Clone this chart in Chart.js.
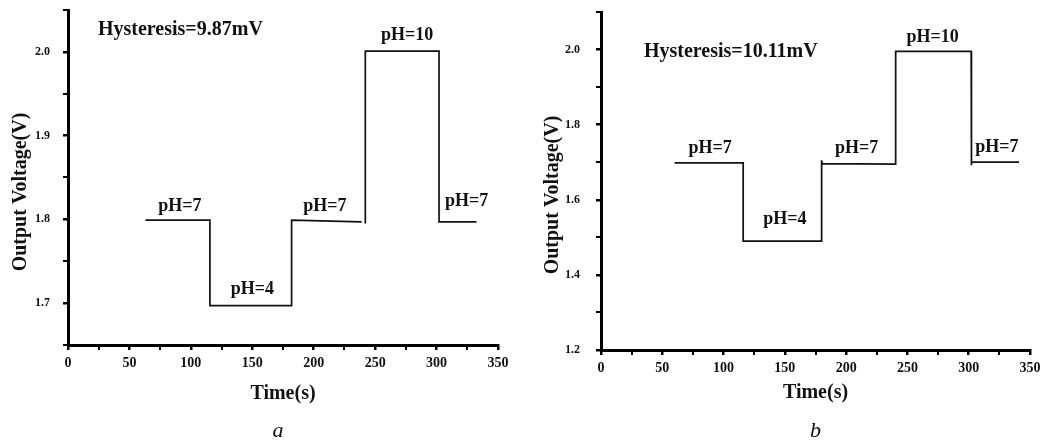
<!DOCTYPE html>
<html>
<head>
<meta charset="utf-8">
<script src="https://cdn.jsdelivr.net/npm/chart.js@4.4.0/dist/chart.umd.min.js"></script>
<style>
  body { margin: 0; background: #fff; }
  #chartA { position: absolute; left: 0; top: 0; }
  #chartB { position: absolute; left: 520px; top: 0; }
</style>
</head>
<body>
<canvas id="chartA" width="520" height="441"></canvas>
<canvas id="chartB" width="527" height="441"></canvas>
<script>
// panel a : time (s) / output voltage (V), null = break in the trace
const timeA = [63, 115.5, 115.5, 182, 182, 239, 240.5, 242, 242, 302, 302, 332.5];
const voltA = [1.799, 1.799, 1.697, 1.697, 1.799, 1.797, null, 1.795, 2.001, 2.001, 1.797, 1.797];
// panel b
const timeB = [60, 116, 116, 180, 180, 180.5, 240.4, 240.4, 302, 302, 302.5, 341];
const voltB = [1.698, 1.698, 1.49, 1.49, 1.705, 1.696, 1.695, 1.995, 1.995, 1.692, 1.7, 1.7];

// step labels (text, anchor time, anchor voltage)
const stepText = ['pH=7', 'pH=4', 'pH=7', 'pH=10', 'pH=7'];
const stepTimeA = [91, 150, 209, 276, 324.5];
const stepVoltA = [1.816, 1.717, 1.816, 2.020, 1.821];
const stepTimeB = [89, 150, 208.5, 270.5, 323];
const stepVoltB = [1.738, 1.548, 1.738, 2.033, 1.740];
const hystTextA = 'Hysteresis=9.87mV';
const hystTextB = 'Hysteresis=10.11mV';

// axes
const xTicks = [0, 25, 50, 75, 100, 125, 150, 175, 200, 225, 250, 275, 300, 325, 350];
const xLabels = ['0', '', '50', '', '100', '', '150', '', '200', '', '250', '', '300', '', '350'];
const yTicksA = [1.65, 1.7, 1.75, 1.8, 1.85, 1.9, 1.95, 2.0, 2.05];
const yLabelsA = ['', '1.7', '', '1.8', '', '1.9', '', '2.0', ''];
const yTicksB = [1.2, 1.3, 1.4, 1.5, 1.6, 1.7, 1.8, 1.9, 2.0, 2.1];
const yLabelsB = ['1.2', '', '1.4', '', '1.6', '', '1.8', '', '2.0', ''];

const serif = '"Liberation Serif", "Times New Roman", serif';

const panelText = {
    id: 'panelText',
    afterDraw(chart, args, opts) {
        const { ctx, chartArea, scales } = chart;
        const cx = (chartArea.left + chartArea.right) / 2;
        ctx.save();
        ctx.fillStyle = '#111';
        ctx.textBaseline = 'middle';

        ctx.font = 'bold 18px ' + serif;
        ctx.textAlign = 'center';
        opts.labels.forEach((t, i) => {
            ctx.fillText(t, scales.x.getPixelForValue(opts.lx[i]), scales.y.getPixelForValue(opts.ly[i]));
        });

        ctx.font = 'bold 20px ' + serif;
        ctx.textAlign = 'left';
        ctx.fillText(opts.hyst, scales.x.getPixelForValue(opts.hx), scales.y.getPixelForValue(opts.hy));

        // axis titles
        ctx.textAlign = 'center';
        ctx.fillText('Time(s)', cx, chartArea.bottom + opts.xTitleDy);
        ctx.save();
        ctx.translate(opts.yTitleX, opts.yTitleY);
        ctx.rotate(-Math.PI / 2);
        ctx.fillText('Output Voltage(V)', 0, 0);
        ctx.restore();

        // panel letter
        ctx.font = 'italic 22px ' + serif;
        ctx.textBaseline = 'alphabetic';
        ctx.fillText(opts.letter, cx + opts.letterDx, 437);
        ctx.restore();
    }
};

function makeChart(id, times, volts, yTicks, yLabels, yMin, yMax, pad, yWidth, xHeight, text) {
    const points = times.map((t, i) => ({ x: t, y: volts[i] }));
    return new Chart(document.getElementById(id).getContext('2d'), {
        type: 'scatter',
        data: {
            datasets: [{
                data: points,
                showLine: true,
                borderColor: '#111',
                borderWidth: 1.7,
                pointRadius: 0,
                spanGaps: false
            }]
        },
        options: {
            responsive: false,
            animation: false,
            layout: { padding: pad },
            plugins: {
                legend: { display: false },
                tooltip: { enabled: false },
                panelText: text
            },
            scales: {
                x: {
                    type: 'linear',
                    min: 0,
                    max: 350,
                    afterBuildTicks: s => { s.ticks = xTicks.map(v => ({ value: v })); },
                    afterFit: s => {
                        s.height = xHeight;
                        s.paddingLeft = 0;
                        s.paddingRight = 0;
                    },
                    border: { display: true, color: '#000', width: 3 },
                    grid: {
                        drawOnChartArea: false,
                        tickLength: 5,
                        color: '#000',
                        lineWidth: c => (xLabels[c.index] ? 2.5 : 2)
                    },
                    ticks: {
                        autoSkip: false,
                        maxRotation: 0,
                        padding: 5,
                        color: '#111',
                        font: { family: serif, size: 14, weight: 'bold' },
                        callback: (v, i) => xLabels[i]
                    }
                },
                y: {
                    type: 'linear',
                    min: yMin,
                    max: yMax,
                    afterBuildTicks: s => { s.ticks = yTicks.map(v => ({ value: v })); },
                    afterFit: s => {
                        s.width = yWidth;
                        s.paddingTop = 0;
                        s.paddingBottom = 0;
                    },
                    border: { display: true, color: '#000', width: 3 },
                    grid: {
                        drawOnChartArea: false,
                        tickLength: 5,
                        color: '#000',
                        lineWidth: c => (yLabels[c.index] ? 2.5 : 2)
                    },
                    ticks: {
                        autoSkip: false,
                        padding: text.yTickPad,
                        color: '#111',
                        font: { family: serif, size: 12, weight: 'bold' },
                        callback: (v, i) => yLabels[i]
                    }
                }
            }
        },
        plugins: [panelText]
    });
}

document.addEventListener('DOMContentLoaded', function () {
    makeChart('chartA', timeA, voltA, yTicksA, yLabelsA, 1.65, 2.05,
        { left: 0, top: 10, right: 22, bottom: 0 }, 68, 96,
        {
            labels: stepText, lx: stepTimeA, ly: stepVoltA,
            hyst: hystTextA, hx: 24.4, hy: 2.026,
            xTitleDy: 49, yTitleX: 21, yTitleY: 192,
            letter: 'a', letterDx: -5, yTickPad: 13
        });
    makeChart('chartB', timeB, voltB, yTicksB, yLabelsB, 1.2, 2.1,
        { left: 0, top: 12, right: 17, bottom: 0 }, 81, 91,
        {
            labels: stepText, lx: stepTimeB, ly: stepVoltB,
            hyst: hystTextB, hx: 35, hy: 1.993,
            xTitleDy: 43, yTitleX: 33, yTitleY: 195,
            letter: 'b', letterDx: 0, yTickPad: 16
        });
});
</script>
</body>
</html>
